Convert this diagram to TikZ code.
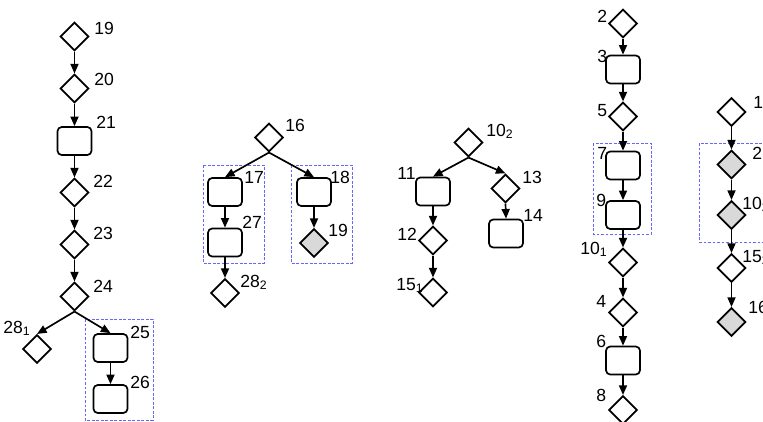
\documentclass[tikz,border=0pt]{standalone}
\usepackage{fontspec}
\setmainfont{Liberation Sans}
\usetikzlibrary{shapes.geometric,arrows.meta}

\begin{document}
\begin{tikzpicture}[
    x=0.025cm, y=-0.025cm,
    every node/.style={font=\fontsize{12.5}{14}\selectfont},
    dia/.style={draw, diamond, line width=1.2pt, inner sep=0pt,
                minimum width=0.71cm, minimum height=0.71cm},
    blk/.style={draw, rounded corners=3pt, line width=1.2pt, inner sep=0pt,
                minimum width=0.85cm, minimum height=0.70cm},
    shade/.style={fill=gray!30},
    lbl/.style={inner sep=0pt, anchor=base west},
    flow/.style={-{Triangle[length=2.4mm,width=2mm]}, line width=1.2pt},
    group/.style={draw=blue!60, dash pattern=on 2pt off 1.2pt, line width=0.6pt}
  ]
  \useasboundingbox (0,0) rectangle (763,421);

  % first tree
  \node[dia] (d19)  at (74.5,36.5)  {};
  \node[dia] (d20)  at (74.5,88.5)  {};
  \node[blk] (b21)  at (74.5,141)   {};
  \node[dia] (d22)  at (74.5,192.5) {};
  \node[dia] (d23)  at (74.5,244.5) {};
  \node[dia] (d24)  at (74.5,296.5) {};
  \node[dia] (d28a) at (37,349)     {};
  \node[blk] (b25)  at (110.5,348)  {};
  \node[blk] (b26)  at (110.5,399)  {};
  \draw[group] (85,319) rectangle (153,420);
  \node[lbl] (t19)  at (94,34)   {19};
  \node[lbl] (t20)  at (94,85)   {20};
  \node[lbl] (t21)  at (96,128)  {21};
  \node[lbl] (t22)  at (93,187)  {22};
  \node[lbl] (t23)  at (93,239)  {23};
  \node[lbl] (t24)  at (93,292)  {24};
  \node[lbl] (t28a) at (3,333)   {28\textsubscript{1}};
  \node[lbl] (t25)  at (130,338) {25};
  \node[lbl] (t26)  at (130,388) {26};
  \draw[flow] (d19.south) -- (d20.north);
  \draw[flow] (d20.south) -- (b21.north);
  \draw[flow] (b21.south) -- (d22.north);
  \draw[flow] (d22.south) -- (d23.north);
  \draw[flow] (d23.south) -- (d24.north);
  \draw[flow] (d24.south) -- (d28a.north);
  \draw[flow] (d24.south) -- (b25.north);
  \draw[flow] (b25.south) -- (b26.north);

  % second tree
  \node[dia] (d16)  at (269,137.5) {};
  \node[blk] (b17)  at (225,192)   {};
  \node[blk] (b27)  at (225,242.5) {};
  \node[dia] (d28b) at (225,293)   {};
  \node[blk] (b18)  at (314,192)   {};
  \node[dia, shade] (d19b) at (314,243) {};
  \draw[group] (203,165) rectangle (264,263);
  \draw[group] (291,165) rectangle (352,263);
  \node[lbl] (t16)  at (285,131) {16};
  \node[lbl] (t17)  at (244,183) {17};
  \node[lbl] (t27)  at (242,228) {27};
  \node[lbl] (t28b) at (240,287) {28\textsubscript{2}};
  \node[lbl] (t18)  at (330,183) {18};
  \node[lbl] (t19b) at (328,236) {19};
  \draw[flow] (d16.south) -- (b17.north);
  \draw[flow] (d16.south) -- (b18.north);
  \draw[flow] (b17.south) -- (b27.north);
  \draw[flow] (b27.south) -- (d28b.north);
  \draw[flow] (b18.south) -- (d19b.north);

  % third tree
  \node[dia] (d10b) at (468.5,142.5) {};
  \node[blk] (b11)  at (433,191.5)   {};
  \node[dia] (d12)  at (433,240.5)   {};
  \node[dia] (d15a) at (433,292.5)   {};
  \node[dia] (d13)  at (505.5,188.5) {};
  \node[blk] (b14)  at (506,233.5)   {};
  \node[lbl] (t10b) at (486,136) {10\textsubscript{2}};
  \node[lbl] (t11)  at (397,179) {11};
  \node[lbl] (t13)  at (522,183) {13};
  \node[lbl] (t14)  at (523,221) {14};
  \node[lbl] (t12)  at (397,240) {12};
  \node[lbl] (t15a) at (396,290) {15\textsubscript{1}};
  \draw[flow] (d10b.south) -- (b11.north);
  \draw[flow] (d10b.south) -- (d13.north);
  \draw[flow] (b11.south) -- (d12.north);
  \draw[flow] (d12.south) -- (d15a.north);
  \draw[flow] (d13.south) -- (b14.north);

  % fourth chain
  \node[dia] (d2)   at (623,23.5)  {};
  \node[blk] (b3)   at (623,69.5)  {};
  \node[dia] (d5)   at (623,116.5) {};
  \node[blk] (b7)   at (623,165.5) {};
  \node[blk] (b9)   at (623,215)   {};
  \node[dia] (d10a) at (623,262.5) {};
  \node[dia] (d4)   at (623,312.5) {};
  \node[blk] (b6)   at (623,360.5) {};
  \node[dia] (d8)   at (623,410)   {};
  \draw[group] (593,143) rectangle (651,234);
  \node[lbl] (t2)   at (597,22)  {2};
  \node[lbl] (t3)   at (597,62)  {3};
  \node[lbl] (t5)   at (597,116) {5};
  \node[lbl] (t7)   at (597,159) {7};
  \node[lbl] (t9)   at (596,206) {9};
  \node[lbl] (t10a) at (580,254) {10\textsubscript{1}};
  \node[lbl] (t4)   at (596,307) {4};
  \node[lbl] (t6)   at (596,347) {6};
  \node[lbl] (t8)   at (596,401) {8};
  \draw[flow] (d2.south)   -- (b3.north);
  \draw[flow] (b3.south)   -- (d5.north);
  \draw[flow] (d5.south)   -- (b7.north);
  \draw[flow] (b7.south)   -- (b9.north);
  \draw[flow] (b9.south)   -- (d10a.north);
  \draw[flow] (d10a.south) -- (d4.north);
  \draw[flow] (d4.south)   -- (b6.north);
  \draw[flow] (b6.south)   -- (d8.north);

  % fifth chain
  \node[dia] (d1)   at (731.5,112) {};
  \node[dia, shade] (d2b)  at (731.5,164.5) {};
  \node[dia, shade] (d10c) at (731.5,215)   {};
  \node[dia] (d15b) at (731.5,268) {};
  \node[dia, shade] (d16b) at (731.5,322)   {};
  \draw[group] (699,143) rectangle (780,242);
  \node[lbl] (t1)   at (753,108) {1};
  \node[lbl] (t2b)  at (752,159) {2};
  \node[lbl] (t10c) at (742,209) {10\textsubscript{2}};
  \node[lbl] (t15b) at (742,262) {15\textsubscript{2}};
  \node[lbl] (t16b) at (748,313) {16};
  \draw[flow] (d1.south)   -- (d2b.north);
  \draw[flow] (d2b.south)  -- (d10c.north);
  \draw[flow] (d10c.south) -- (d15b.north);
  \draw[flow] (d15b.south) -- (d16b.north);
\end{tikzpicture}
\end{document}
